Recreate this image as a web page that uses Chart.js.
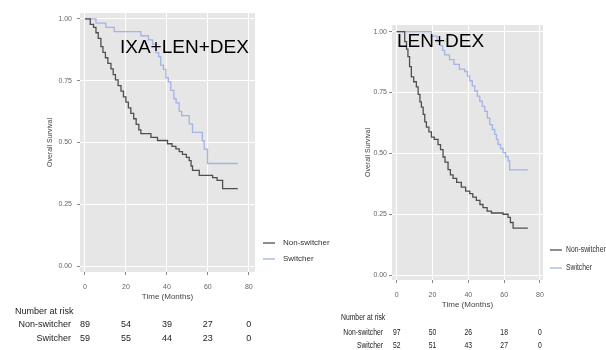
<!DOCTYPE html>
<html><head><meta charset="utf-8">
<script src="https://cdn.jsdelivr.net/npm/chart.js@4"></script>
<style>
html,body{margin:0;padding:0;background:#fff;}
#wrap{position:relative;width:606px;height:350px;overflow:hidden;background:#fff;}
canvas{position:absolute;top:0;}
#c1{left:0;}
#c2{left:300px;}
</style></head><body>
<div id="wrap"><canvas id="c1" width="360" height="350"></canvas><canvas id="c2" width="306" height="350"></canvas></div>
<script>
// ---- data ----
const xTicks = [0, 20, 40, 60, 80];
const yTicks = [0, 0.25, 0.5, 0.75, 1];
const seriesNames = ['Non-switcher', 'Switcher'];
const panelTitles = ['IXA+LEN+DEX', 'LEN+DEX'];

// IXA+LEN+DEX
const ixaNonTime = [0,2.6,4.2,5.4,6.5,7.8,8.8,10.0,11.2,12.7,13.8,14.9,16.2,17.6,18.8,20.0,21.2,22.4,23.8,25.0,26.3,27.3,32.2,35.4,40.3,42.5,44.4,46.0,47.6,49.5,50.9,51.8,52.5,55.8,62.3,64.5,67.2,74.6];
const ixaNonSurv = [1.0,0.978,0.966,0.944,0.921,0.888,0.865,0.843,0.820,0.798,0.775,0.753,0.730,0.708,0.685,0.663,0.640,0.618,0.596,0.573,0.551,0.536,0.521,0.508,0.495,0.484,0.474,0.463,0.452,0.440,0.427,0.405,0.387,0.367,0.358,0.347,0.313,0.313];
const ixaSwTime = [0,5.4,10.2,14.3,27.3,31.0,33.0,34.6,36.0,37.0,38.3,39.5,40.7,41.9,43.4,44.5,46.0,47.2,50.9,52.5,57.3,58.2,59.8,74.6];
const ixaSwSurv = [1.0,0.983,0.966,0.949,0.932,0.915,0.898,0.864,0.847,0.813,0.796,0.762,0.745,0.711,0.677,0.660,0.626,0.609,0.575,0.541,0.507,0.473,0.415,0.415];

// LEN+DEX
const lenNonTime = [0,4.5,5.5,6.3,7.2,8.2,9.5,11.0,12.0,13.0,13.8,14.8,15.7,16.6,18.0,19.4,21.0,23.1,24.5,25.9,27.0,28.7,30.0,31.5,33.5,36.1,38.5,40.8,42.5,44.5,46.5,48.2,50.5,52.9,59.4,62.2,63.5,65.0,73.2];
const lenNonSurv = [1.0,0.959,0.928,0.897,0.856,0.814,0.794,0.773,0.742,0.711,0.690,0.660,0.629,0.608,0.588,0.567,0.557,0.536,0.515,0.485,0.464,0.433,0.412,0.397,0.381,0.361,0.345,0.335,0.320,0.307,0.290,0.277,0.263,0.255,0.250,0.237,0.216,0.193,0.193];
const lenSwTime = [0,19.4,22.6,24.2,25.6,26.8,29.5,32.0,35.0,38.0,39.5,40.8,42.2,43.6,45.0,46.4,47.8,49.2,50.6,52.0,53.4,54.7,55.7,56.6,58.0,59.4,60.8,62.2,63.1,73.2];
const lenSwSurv = [1.0,0.981,0.962,0.942,0.923,0.904,0.885,0.865,0.846,0.836,0.817,0.798,0.777,0.756,0.735,0.714,0.693,0.672,0.645,0.618,0.598,0.578,0.557,0.537,0.520,0.503,0.486,0.469,0.432,0.432];

// Number at risk
const riskTimes = [0, 20, 40, 60, 80];
const ixaRiskNon = [89, 54, 39, 27, 0];
const ixaRiskSw = [59, 55, 44, 23, 0];
const lenRiskNon = [97, 50, 26, 18, 0];
const lenRiskSw = [52, 51, 43, 27, 0];

const colNon = '#4f4f4f';
const colSw = '#a3b4e6';

function pts(t, s) { return t.map((v, i) => ({x: v, y: s[i]})); }

function makeChart(id, o) {
  const fam = o.family;
  // draw text horizontally squeezed by factor o.sx (1 = normal)
  function txt(ctx, s, x, y) {
    ctx.save();
    ctx.translate(x, y);
    ctx.scale(o.sx, 1);
    ctx.fillText(s, 0, 0);
    ctx.restore();
  }
  const deco = {
    id: 'deco',
    beforeDraw(chart) {
      const {ctx, chartArea: a} = chart;
      ctx.save();
      ctx.fillStyle = '#e6e6e6';
      ctx.fillRect(a.left, a.top, a.right - a.left, a.bottom - a.top);
      ctx.restore();
    },
    afterDraw(chart) {
      const ctx = chart.ctx;
      const xs = chart.scales.x;
      ctx.save();
      // panel annotation
      ctx.fillStyle = '#000';
      ctx.font = '19px "Liberation Sans", Arial, sans-serif';
      ctx.textAlign = 'left'; ctx.textBaseline = 'middle';
      ctx.fillText(o.title, o.titleX, o.titleY);
      // legend
      ctx.font = o.legFont + 'px ' + fam;
      ctx.fillStyle = '#333';
      [colNon, colSw].forEach((c, i) => {
        const y = o.legY[i];
        ctx.strokeStyle = c; ctx.lineWidth = 1.3;
        ctx.beginPath(); ctx.moveTo(o.legX, y); ctx.lineTo(o.legX + 12, y); ctx.stroke();
        txt(ctx, seriesNames[i], o.legX + o.legGap, y);
      });
      // number at risk table
      ctx.fillStyle = '#222';
      ctx.font = o.tabFont + 'px ' + fam;
      ctx.textAlign = 'left';
      txt(ctx, 'Number at risk', o.tabX, o.tabY[0]);
      ctx.textAlign = 'right';
      txt(ctx, seriesNames[0], o.rowX, o.tabY[1]);
      txt(ctx, seriesNames[1], o.rowX, o.tabY[2]);
      ctx.textAlign = 'center';
      riskTimes.forEach((t, i) => {
        const px = xs.getPixelForValue(t);
        txt(ctx, String(o.riskNon[i]), px, o.tabY[1]);
        txt(ctx, String(o.riskSw[i]), px, o.tabY[2]);
      });
      ctx.restore();
    }
  };
  return new Chart(document.getElementById(id), {
    type: 'line',
    data: {
      datasets: [
        {label: seriesNames[0], data: pts(o.nonT, o.nonS), borderColor: colNon, borderWidth: 1.3, stepped: true, pointRadius: 0, fill: false},
        {label: seriesNames[1], data: pts(o.swT, o.swS), borderColor: colSw, borderWidth: 1.3, stepped: true, pointRadius: 0, fill: false}
      ]
    },
    options: {
      responsive: false, maintainAspectRatio: false, animation: false,
      layout: {padding: o.pad},
      plugins: {legend: {display: false}, tooltip: {enabled: false}},
      scales: {
        x: {
          type: 'linear', min: o.xMin, max: o.xMax,
          afterBuildTicks(s) { s.ticks = xTicks.map(v => ({value: v})); },
          afterFit(s) { s.height = o.xH; },
          grid: {color: '#ffffff', lineWidth: 1, tickColor: '#888', tickLength: 3, drawTicks: true},
          border: {display: false},
          ticks: {font: {family: fam, size: 7}, color: '#666', padding: o.xPad, maxRotation: 0, autoSkip: false, callback: v => String(v)},
          title: {display: true, text: 'Time (Months)', font: {family: fam, size: 8}, color: '#444', padding: 0}
        },
        y: {
          type: 'linear', min: o.yMin, max: o.yMax,
          afterBuildTicks(s) { s.ticks = yTicks.map(v => ({value: v})); },
          afterFit(s) { s.width = o.yW; },
          grid: {color: '#ffffff', lineWidth: 1, tickColor: '#888', tickLength: 3, drawTicks: true},
          border: {display: false},
          ticks: {font: {family: fam, size: 7}, color: '#666', padding: o.yPad, autoSkip: false, callback: v => Number(v).toFixed(2)},
          title: {display: true, text: 'Overall Survival', font: {family: fam, size: 7}, color: '#444', padding: 0}
        }
      }
    },
    plugins: [deco]
  });
}

makeChart('c1', {
  family: '"Liberation Sans", Arial, sans-serif', sx: 1,
  pad: {left: 46, right: 105, top: 13, bottom: 48},
  xMin: -2.4, xMax: 83, yMin: -0.024, yMax: 1.024,
  xH: 30, yW: 34, xPad: 8, yPad: 5,
  nonT: ixaNonTime, nonS: ixaNonSurv, swT: ixaSwTime, swS: ixaSwSurv,
  title: panelTitles[0], titleX: 120, titleY: 48,
  legX: 263, legGap: 20, legY: [243, 259], legFont: 8,
  tabFont: 9, tabX: 15, tabY: [312, 325, 339], rowX: 71,
  riskNon: ixaRiskNon, riskSw: ixaRiskSw
});

makeChart('c2', {
  family: '"Liberation Sans", Arial, sans-serif', sx: 0.8,
  pad: {left: 64, right: 63, top: 25, bottom: 40},
  xMin: -2.6, xMax: 81.7, yMin: -0.02, yMax: 1.027,
  xH: 30, yW: 28, xPad: 8, yPad: 2,
  nonT: lenNonTime, nonS: lenNonSurv, swT: lenSwTime, swS: lenSwSurv,
  title: panelTitles[1], titleX: 97, titleY: 42,
  legX: 250, legGap: 16, legY: [250, 268], legFont: 8.5,
  tabFont: 8.5, tabX: 41, tabY: [318, 333, 346], rowX: 83,
  riskNon: lenRiskNon, riskSw: lenRiskSw
});
</script>
</body></html>
